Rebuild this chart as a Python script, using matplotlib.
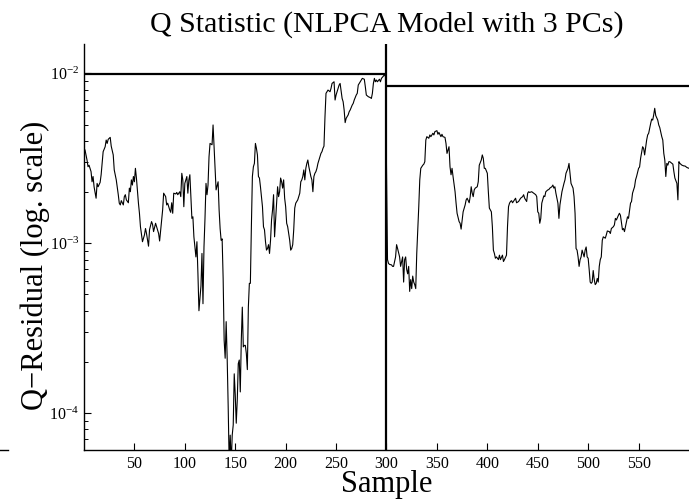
import matplotlib
matplotlib.use('Agg')
import matplotlib.pyplot as plt
from matplotlib.lines import Line2D
import numpy as np

plt.rcParams['font.family'] = ['Liberation Serif', 'DejaVu Serif']
plt.rcParams['mathtext.fontset'] = 'stix'

# Q residual (units of 1e-3)
samples = [1, 3, 4, 5, 7, 8, 9, 10, 12, 13, 14, 16, 17, 19, 21, 22, 23, 24, 26, 27,
           29, 30, 32, 34, 35, 36, 37, 39, 40, 41, 42, 44, 45, 46, 47, 48, 49, 50, 51, 52,
           54, 55, 56, 58, 60, 61, 62, 64, 65, 67, 68, 69, 71, 72, 74, 75, 77, 78, 79, 81,
           82, 83, 85, 86, 87, 88, 89, 91, 92, 93, 95, 96, 97, 98, 99, 100, 102, 103, 104, 105,
           106, 107, 108, 109, 111, 112, 113, 114, 116, 117, 118, 119, 120, 121, 122, 123, 124, 125, 127, 128,
           129, 130, 131, 133, 134, 135, 136, 137, 138, 139, 140, 141, 142, 143, 144, 145, 146, 147, 148, 149,
           150, 151, 152, 153, 154, 155, 156, 157, 158, 159, 160, 161, 162, 163, 164, 165, 166, 167, 168, 169,
           170, 171, 172, 173, 174, 175, 177, 178, 179, 180, 181, 182, 183, 184, 185, 186, 187, 188, 189, 190,
           191, 192, 193, 194, 195, 196, 197, 198, 199, 200, 201, 202, 203, 204, 205, 206, 207, 208, 209, 210,
           212, 213, 214, 215, 216, 217, 218, 219, 220, 221, 222, 223, 224, 225, 226, 227, 228, 229, 230, 231,
           232, 233, 234, 235, 236, 237, 238, 239, 240, 241, 242, 244, 245, 246, 248, 249, 250, 252, 253, 254,
           256, 257, 258, 259, 260, 262, 263, 264, 266, 267, 268, 270, 271, 272, 274, 275, 276, 278, 279, 280,
           282, 284, 285, 286, 287, 288, 289, 290, 291, 293, 294, 295, 297, 298, 299,
           301, 302, 303, 305, 306, 307, 309, 310, 311, 313, 314, 315, 316, 317, 318, 319, 320, 321, 322, 323,
           324, 325, 326, 327, 328, 329, 330, 332, 333, 334, 336, 337, 338, 339, 340, 342, 343, 344, 346, 347,
           348, 350, 351, 352, 354, 355, 356, 358, 359, 360, 362, 363, 364, 365, 366, 368, 369, 370, 372, 373,
           374, 375, 376, 378, 379, 380, 382, 383, 384, 385, 386, 387, 388, 390, 391, 392, 394, 395, 396, 397,
           398, 400, 401, 402, 403, 404, 405, 406, 407, 408, 409, 411, 412, 413, 415, 416, 417, 419, 420, 421,
           422, 423, 424, 425, 427, 428, 429, 431, 432, 433, 435, 436, 437, 439, 440, 441, 442, 444, 445, 446,
           448, 449, 450, 451, 452, 453, 454, 456, 457, 458, 460, 461, 462, 464, 465, 466, 467, 468, 470, 471,
           472, 473, 474, 476, 477, 478, 480, 481, 482, 483, 485, 486, 487, 488, 489, 490, 491, 492, 493, 494,
           495, 496, 497, 498, 499, 500, 501, 502, 503, 504, 505, 506, 507, 508, 509, 510, 511, 512, 513, 514,
           515, 517, 518, 519, 521, 522, 523, 525, 526, 527, 528, 530, 531, 532, 534, 535, 536, 538, 539, 540,
           542, 543, 544, 546, 547, 548, 550, 551, 552, 554, 555, 556, 558, 559, 560, 562, 563, 564, 565, 566,
           567, 569, 570, 571, 573, 574, 575, 576, 577, 578, 579, 580, 581, 583, 584, 585, 586, 588, 589, 590,
           591, 593, 595, 596, 598, 600]
q_e3 = [3.54, 3.09, 2.82, 2.88, 2.64, 2.30, 2.47, 2.15, 1.84, 2.25, 2.15, 2.28, 2.53, 3.46, 3.70, 4.05, 3.87, 4.09, 4.20, 3.73,
        3.31, 2.70, 2.36, 1.93, 1.72, 1.68, 1.78, 1.68, 1.88, 1.93, 1.80, 1.73, 2.11, 2.01, 2.36, 2.20, 2.47, 2.30, 2.76, 2.42,
        1.72, 1.50, 1.25, 1.02, 1.12, 1.22, 1.14, 0.96, 1.20, 1.34, 1.29, 1.17, 1.31, 1.25, 1.14, 1.03, 1.37, 1.57, 1.97, 1.88,
        1.68, 1.72, 1.57, 1.52, 1.73, 1.50, 1.97, 1.95, 1.99, 1.93, 2.01, 1.88, 2.58, 2.36, 1.64, 2.25, 2.47, 1.97, 2.36, 2.53,
        1.88, 1.40, 1.43, 1.09, 0.83, 1.02, 0.66, 0.40, 0.56, 0.87, 0.44, 0.95, 1.40, 2.25, 1.93, 2.20, 3.23, 3.87, 3.80, 4.97,
        3.70, 2.70, 2.06, 2.30, 1.57, 1.22, 1.04, 1.06, 0.62, 0.268, 0.21, 0.345, 0.21, 0.109, 0.05, 0.074, 0.05, 0.074, 0.085, 0.17,
        0.128, 0.087, 0.119, 0.195, 0.205, 0.133, 0.268, 0.42, 0.245, 0.25, 0.25, 0.224, 0.18, 0.42, 0.58, 0.58, 1.25, 2.47, 2.82, 2.95,
        3.87, 3.62, 3.31, 2.47, 2.42, 2.15, 1.64, 1.25, 1.20, 1.02, 0.91, 0.93, 0.98, 0.87, 1.04, 1.37, 1.57, 1.93, 1.09, 1.37,
        1.68, 2.15, 1.88, 2.01, 2.42, 2.30, 2.11, 2.36, 1.84, 1.64, 1.31, 1.25, 1.14, 1.04, 0.91, 0.93, 0.98, 1.20, 1.61, 1.72,
        1.80, 1.88, 1.97, 2.30, 2.36, 2.47, 2.70, 2.36, 2.76, 2.95, 3.09, 2.82, 2.64, 2.47, 2.36, 2.01, 2.47, 2.58, 2.64, 2.76,
        2.95, 3.09, 3.23, 3.38, 3.46, 3.62, 3.73, 5.56, 7.63, 7.80, 7.98, 7.80, 8.17, 8.73, 8.93, 6.97, 7.46, 8.17, 8.54, 8.73,
        7.12, 6.81, 6.09, 5.13, 5.44, 5.70, 5.95, 6.09, 6.51, 6.66, 6.97, 7.46, 7.63, 8.54, 8.93, 9.14, 9.35, 9.24, 8.35, 7.46,
        7.29, 7.20, 7.12, 7.63, 8.73, 9.35, 8.93, 9.14, 8.93, 9.24, 8.93, 9.35, 9.65, 9.86, 9.56,
        0.80, 0.76, 0.75, 0.745, 0.73, 0.73, 0.83, 0.98, 0.93, 0.83, 0.73, 0.78, 0.83, 0.59, 0.80, 0.83, 0.70, 0.66, 0.73, 0.52,
        0.61, 0.54, 0.64, 0.59, 0.57, 0.54, 0.87, 1.64, 2.36, 2.76, 2.88, 2.92, 3.02, 4.05, 4.24, 4.15, 4.34, 4.24, 4.44, 4.34,
        4.54, 4.60, 4.38, 4.49, 4.24, 4.38, 4.24, 4.20, 3.87, 3.38, 3.70, 2.82, 2.53, 2.76, 2.47, 2.01, 1.72, 1.50, 1.34, 1.31,
        1.21, 1.37, 1.53, 1.68, 1.80, 1.84, 1.73, 1.88, 2.15, 1.97, 1.88, 2.06, 2.11, 2.15, 2.30, 2.88, 3.09, 3.31, 3.16, 2.76,
        2.76, 2.58, 2.01, 1.61, 1.57, 1.53, 1.25, 0.91, 0.87, 0.815, 0.83, 0.80, 0.85, 0.80, 0.85, 0.78, 0.80, 0.85, 1.25, 1.64,
        1.72, 1.76, 1.78, 1.73, 1.80, 1.84, 1.73, 1.76, 1.80, 1.84, 1.88, 1.93, 1.84, 1.76, 1.97, 2.01, 1.99, 2.01, 1.99, 1.97,
        1.93, 1.88, 1.53, 1.50, 1.31, 1.40, 1.72, 1.90, 1.88, 2.01, 2.06, 2.07, 2.11, 2.15, 2.20, 2.11, 2.15, 1.97, 1.72, 1.40,
        1.68, 1.84, 2.01, 2.25, 2.36, 2.58, 2.76, 2.95, 2.58, 2.25, 2.11, 1.88, 1.50, 0.93, 0.91, 0.83, 0.73, 0.80, 0.83, 0.91,
        0.87, 0.83, 0.91, 0.95, 0.83, 0.815, 0.70, 0.59, 0.58, 0.59, 0.69, 0.61, 0.57, 0.58, 0.62, 0.59, 0.73, 0.80, 0.83, 1.04,
        1.09, 1.07, 1.12, 1.18, 1.17, 1.14, 1.22, 1.25, 1.28, 1.40, 1.37, 1.46, 1.50, 1.46, 1.20, 1.22, 1.17, 1.34, 1.43, 1.40,
        1.72, 1.76, 1.97, 2.15, 2.36, 2.47, 2.76, 2.81, 3.16, 3.70, 3.62, 3.31, 4.05, 4.34, 4.44, 5.08, 5.38, 5.31, 5.70, 6.23,
        5.65, 5.31, 4.97, 4.80, 4.24, 4.05, 3.38, 3.09, 2.47, 2.95, 2.88, 3.02, 3.02, 2.95, 2.92, 2.64, 2.42, 2.25, 1.80, 3.02,
        2.95, 2.88, 2.85, 2.85, 2.79, 2.76]

q = np.array(q_e3) * 1e-3

# control limits for the two halves
split_at = 300
limit_left = 9.9e-3
limit_right = 8.45e-3

fig = plt.figure(figsize=(6.89, 4.99), dpi=100)
ax = fig.add_axes([0.1219, 0.0982, 0.8781, 0.8136])

ax.semilogy(samples, q, color='k', lw=0.8)
ax.hlines(limit_left, 0, split_at, color='k', lw=1.6)
ax.hlines(limit_right, split_at, 600, color='k', lw=1.6)
ax.axvline(split_at, color='k', lw=1.6)

ax.set_xlim(0, 600)
ax.set_ylim(6.05e-5, 1.49e-2)
ax.set_xticks([50, 100, 150, 200, 250, 300, 350, 400, 450, 500, 550])

for s in ['top', 'right']:
    ax.spines[s].set_visible(False)
ax.spines['left'].set_linewidth(1.0)
ax.spines['bottom'].set_linewidth(1.0)
ax.tick_params(which='both', direction='in', top=False, right=False, labelsize=11.5)
ax.tick_params(which='major', length=5, width=0.8)
ax.tick_params(which='minor', length=3, width=0.7)
ax.tick_params(axis='x', pad=4)

ax.set_title('Q Statistic (NLPCA Model with 3 PCs)', fontsize=21.5, pad=9)
ax.set_xlabel('Sample', fontsize=22)
ax.set_ylabel('Q\u2212Residual (log. scale)', fontsize=22)
ax.xaxis.set_label_coords(0.5, -0.05)
ax.xaxis.label.set_va('top')
ax.yaxis.set_label_coords(-0.056, 0.455)

# stray stub at the lower left edge of the page
fig.add_artist(Line2D([0.0, 0.011], [0.0982, 0.0982], color='k', lw=1.0))

fig.savefig('out.png', dpi=100)
